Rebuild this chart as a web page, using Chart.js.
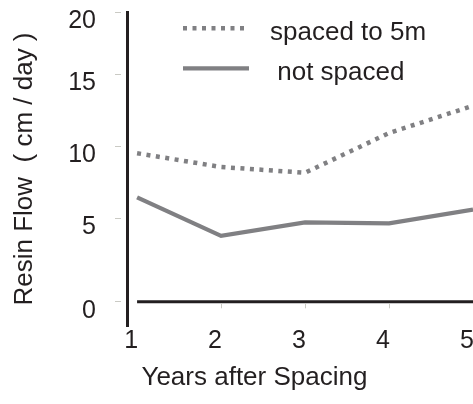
<!DOCTYPE html>
<html>
<head>
<meta charset="utf-8">
<script src="https://cdn.jsdelivr.net/npm/chart.js@4.4.1/dist/chart.umd.min.js"></script>
<style>
  html, body { margin: 0; padding: 0; background: #ffffff; }
  #wrap { width: 473px; height: 404px; }
</style>
</head>
<body>
<div id="wrap"><canvas id="resin"></canvas></div>
<script>
// Resin flow per year after spacing
const years = [1, 2, 3, 4, 5];
const spacedTo5m = [9.5, 8.55, 8.15, 10.9, 12.8];
const notSpaced = [6.45, 3.95, 4.75, 4.7, 5.6];
const yTicks = [0, 5, 10, 15, 20];
const seriesLabels = ['spaced to 5m', ' not spaced'];

const INK = '#231f20';
const LINE = '#808083';
const FAINT = '#cacac4';
const FONT = "'Liberation Sans', Arial, Helvetica, sans-serif";

// Linear scale whose tick intervals may have unequal lengths:
// each stop pairs a value with its fractional position along the axis.
class SteppedLinearScale extends Chart.LinearScale {
  static id = 'steppedLinear';
  static defaults = {};
  _segment(list, key, v) {
    let i = 1;
    while (i < list.length - 1 && v > list[i][key]) i++;
    return [list[i - 1], list[i]];
  }
  getPixelForValue(value) {
    if (value === null || value === undefined || isNaN(value)) return NaN;
    const [a, b] = this._segment(this.options.stops, 0, value);
    const dec = a[1] + (value - a[0]) / (b[0] - a[0]) * (b[1] - a[1]);
    return this.getPixelForDecimal(dec);
  }
  getValueForPixel(pixel) {
    const dec = this.getDecimalForPixel(pixel);
    const [a, b] = this._segment(this.options.stops, 1, dec);
    return a[0] + (dec - a[1]) / (b[1] - a[1]) * (b[0] - a[0]);
  }
}
Chart.register(SteppedLinearScale);

// Horizontal zero line starting at the first year, with short marks below it.
const baseline = {
  id: 'baseline',
  beforeDatasetsDraw(chart, args, opts) {
    const {ctx, chartArea, scales: {x, y}} = chart;
    const y0 = y.getPixelForValue(0);
    ctx.save();
    ctx.strokeStyle = opts.color;
    ctx.lineWidth = opts.width;
    ctx.beginPath();
    ctx.moveTo(x.getPixelForValue(x.ticks[0].value), y0);
    ctx.lineTo(chartArea.right, y0);
    ctx.stroke();
    ctx.strokeStyle = opts.tickColor;
    ctx.lineWidth = 1;
    x.ticks.slice(1, -1).forEach(t => {
      const px = Math.round(x.getPixelForValue(t.value)) + 0.5;
      ctx.beginPath();
      ctx.moveTo(px, y0 + opts.width / 2);
      ctx.lineTo(px, y0 + opts.width / 2 + opts.tickLength);
      ctx.stroke();
    });
    ctx.restore();
  }
};

// Key inside the plot: a line sample in each series' style, then its label.
const lineKey = {
  id: 'lineKey',
  afterDatasetsDraw(chart, args, opts) {
    const {ctx, chartArea} = chart;
    chart.data.datasets.forEach((ds, i) => {
      const x = chartArea.left + opts.left;
      const y = chartArea.top + opts.top + i * opts.rowGap;
      ctx.save();
      ctx.strokeStyle = ds.borderColor;
      ctx.lineWidth = ds.borderWidth;
      ctx.lineCap = 'butt';
      ctx.setLineDash(ds.borderDash || []);
      ctx.beginPath();
      ctx.moveTo(x, y);
      ctx.lineTo(x + opts.sampleLength, y);
      ctx.stroke();
      ctx.setLineDash([]);
      ctx.fillStyle = opts.color;
      ctx.font = opts.font;
      ctx.textAlign = 'left';
      ctx.textBaseline = 'alphabetic';
      ctx.fillText(ds.label, x + opts.textGap, y + opts.baselineShift);
      ctx.restore();
    });
  }
};

new Chart(document.getElementById('resin'), {
  type: 'line',
  data: {
    datasets: [
      {
        label: seriesLabels[0],
        data: years.map((yr, i) => ({x: yr, y: spacedTo5m[i]})),
        borderColor: LINE,
        borderWidth: 4.5,
        borderDash: [4, 5.5],
        borderCapStyle: 'butt',
        pointRadius: 0,
        tension: 0,
        fill: false
      },
      {
        label: seriesLabels[1],
        data: years.map((yr, i) => ({x: yr, y: notSpaced[i]})),
        borderColor: LINE,
        borderWidth: 4.3,
        borderJoinStyle: 'miter',
        pointRadius: 0,
        tension: 0,
        fill: false
      }
    ]
  },
  options: {
    responsive: true,
    maintainAspectRatio: false,
    animation: false,
    events: [],
    layout: { autoPadding: false, padding: { top: 12, left: 0, right: 0, bottom: 0 } },
    scales: {
      x: {
        type: 'linear',
        min: 0.88,
        max: 5,
        afterBuildTicks: s => { s.ticks = years.map(v => ({value: v})); },
        afterFit: s => { s.height = 78; s.paddingLeft = 0; s.paddingRight = 0; },
        grid: { display: false, drawTicks: false },
        border: { display: false },
        ticks: {
          color: INK,
          font: { family: FONT, size: 25 },
          padding: 0,
          labelOffset: -6,
          maxRotation: 0,
          autoSkip: false
        },
        title: {
          display: true,
          text: '  Years after Spacing',
          align: 'start',
          color: INK,
          font: { family: FONT, size: 26 },
          padding: { top: 0, bottom: 11 }
        }
      },
      y: {
        type: 'steppedLinear',
        min: -1.5,
        max: 20,
        stops: [[-1.5, 0], [0, 0.077], [5, 0.343], [10, 0.5732], [15, 0.8025], [20, 1]],
        afterBuildTicks: s => { s.ticks = yTicks.map(v => ({value: v})); },
        afterFit: s => { s.width = 127; s.paddingTop = 0; s.paddingBottom = 0; },
        grid: {
          display: true,
          drawOnChartArea: false,
          drawTicks: true,
          tickLength: 12,
          tickColor: FAINT,
          tickWidth: 1,
          tickBorderDash: [6, 6]
        },
        border: { display: true, color: INK, width: 3 },
        ticks: {
          color: INK,
          font: { family: FONT, size: 25 },
          padding: 19,
          labelOffset: 9
        },
        title: {
          display: true,
          text: 'Resin Flow  ( cm / day )',
          color: INK,
          font: { family: FONT, size: 26 },
          padding: { top: 9, bottom: 0 }
        }
      }
    },
    plugins: {
      legend: { display: false },
      tooltip: { enabled: false },
      baseline: { color: INK, width: 3, tickColor: FAINT, tickLength: 5 },
      lineKey: {
        left: 56,
        top: 16.3,
        rowGap: 40,
        sampleLength: 66,
        textGap: 87,
        baselineShift: 11.7,
        color: INK,
        font: "26px 'Liberation Sans', Arial, Helvetica, sans-serif"
      }
    }
  },
  plugins: [baseline, lineKey]
});
</script>
</body>
</html>
